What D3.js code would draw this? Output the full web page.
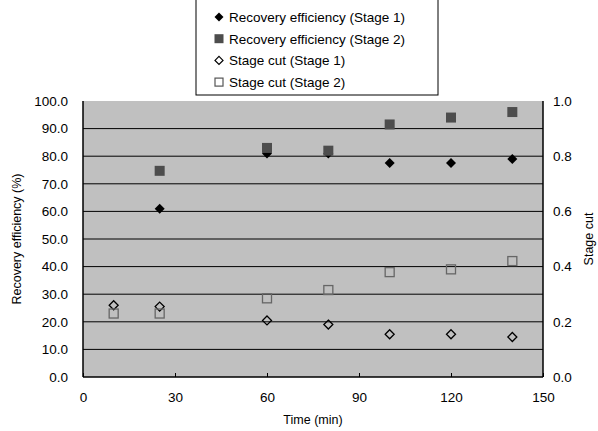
<!DOCTYPE html>
<html><head><meta charset="utf-8">
<script src="https://cdn.jsdelivr.net/npm/d3@7"></script>
<style>body{margin:0;background:#fff}text{font-family:"Liberation Sans",Arial,sans-serif;}</style>
</head><body><svg id="c" width="598" height="431"></svg>
<script>
const recTime1 = [25, 60, 80, 100, 120, 140];
const recStage1 = [61.0, 81.0, 81.0, 77.5, 77.5, 79.0];
const recTime2 = [25, 60, 80, 100, 120, 140];
const recStage2 = [74.7, 83.0, 82.0, 91.5, 94.0, 96.0];
const cutTime = [10, 25, 60, 80, 100, 120, 140];
const cutStage1 = [0.26, 0.255, 0.205, 0.19, 0.155, 0.155, 0.145];
const cutStage2 = [0.23, 0.23, 0.285, 0.315, 0.38, 0.39, 0.42];
const xTicks = [0, 30, 60, 90, 120, 150];
const yTicks = [0,10,20,30,40,50,60,70,80,90,100];
const y2Ticks = [0,0.2,0.4,0.6,0.8,1.0];
const legendLabels = ["Recovery efficiency (Stage 1)","Recovery efficiency (Stage 2)","Stage cut (Stage 1)","Stage cut (Stage 2)"];

const svg = d3.select("#c");
const L=83, R=543, T=101, B=377;
const x = d3.scaleLinear().domain([0,150]).range([L,R]);
const y = d3.scaleLinear().domain([0,100]).range([B,T]);
const y2 = d3.scaleLinear().domain([0,1]).range([B,T]);

svg.append("rect").attr("x",L).attr("y",T).attr("width",R-L).attr("height",B-T).attr("fill","#c0c0c0");
svg.append("g").selectAll("line").data(yTicks.filter(d=>d>0&&d<100)).join("line")
  .attr("x1",L).attr("x2",R).attr("y1",d=>y(d)).attr("y2",d=>y(d)).attr("stroke","#000").attr("stroke-width",1);

// axes
const xa = svg.append("g").attr("transform",`translate(0,${B})`)
  .call(d3.axisBottom(x).tickValues(xTicks).tickSize(-4).tickPadding(15).tickFormat(d3.format("d")));
const ya = svg.append("g").attr("transform",`translate(${L},0)`)
  .call(d3.axisLeft(y).tickValues(yTicks).tickSize(0).tickPadding(15).tickFormat(d3.format(".1f")));
const y2a = svg.append("g").attr("transform",`translate(${R},0)`)
  .call(d3.axisRight(y2).tickValues(y2Ticks).tickSize(0).tickPadding(10).tickFormat(d3.format(".1f")));
[xa,ya,y2a].forEach(a=>{
  a.select(".domain").attr("stroke","#000").attr("stroke-width",1.5);
  a.selectAll("text").attr("font-size",13.5).attr("fill","#000").style("font-family","Liberation Sans, Arial, sans-serif");
  a.selectAll(".tick line").attr("stroke","#000");
});
xa.select(".domain").attr("d",`M${L},0H${R}`);
ya.select(".domain").attr("d",`M0,${T}V${B}`);
y2a.select(".domain").attr("d",`M0,${T}V${B}`);

svg.append("text").attr("x",(L+R)/2).attr("y",424).attr("text-anchor","middle").attr("font-size",12.5).text("Time (min)");
svg.append("text").attr("transform",`translate(21,${(T+B)/2}) rotate(-90)`).attr("text-anchor","middle").attr("font-size",12.5).text("Recovery efficiency (%)");
svg.append("text").attr("transform",`translate(593,${(T+B)/2}) rotate(-90)`).attr("text-anchor","middle").attr("font-size",12.5).text("Stage cut");

function diamondPath(s){ return `M0,${-s}L${s},0L0,${s}L${-s},0Z`; }

// stage cut
svg.append("g").selectAll("path").data(cutTime.map((t,i)=>[t,cutStage1[i]])).join("path")
  .attr("d",diamondPath(4.5)).attr("transform",d=>`translate(${x(d[0])},${y2(d[1])})`)
  .attr("fill","none").attr("stroke","#000").attr("stroke-width",1.3);
svg.append("g").selectAll("rect").data(cutTime.map((t,i)=>[t,cutStage2[i]])).join("rect")
  .attr("x",d=>x(d[0])-4.5).attr("y",d=>y2(d[1])-4.5).attr("width",9).attr("height",9)
  .attr("fill","none").attr("stroke","#666").attr("stroke-width",1.3);
// recovery
svg.append("g").selectAll("path").data(recTime1.map((t,i)=>[t,recStage1[i]])).join("path")
  .attr("d",diamondPath(5)).attr("transform",d=>`translate(${x(d[0])},${y(d[1])})`).attr("fill","#000");
svg.append("g").selectAll("rect").data(recTime2.map((t,i)=>[t,recStage2[i]])).join("rect")
  .attr("x",d=>x(d[0])-5).attr("y",d=>y(d[1])-5).attr("width",10).attr("height",10).attr("fill","#4d4d4d");

// legend
const lg = svg.append("g");
lg.append("rect").attr("x",196).attr("y",-1).attr("width",242).attr("height",96).attr("fill","#fff").attr("stroke","#000").attr("stroke-width",1);
legendLabels.forEach((lab,i)=>{
  const cy = 17 + i*21.7, mx = 219;
  if(i===0) lg.append("path").attr("d",diamondPath(4.5)).attr("transform",`translate(${mx},${cy})`).attr("fill","#000");
  if(i===1) lg.append("rect").attr("x",mx-4.5).attr("y",cy-4.5).attr("width",9).attr("height",9).attr("fill","#4d4d4d");
  if(i===2) lg.append("path").attr("d",diamondPath(4)).attr("transform",`translate(${mx},${cy})`).attr("fill","none").attr("stroke","#000").attr("stroke-width",1.2);
  if(i===3) lg.append("rect").attr("x",mx-4).attr("y",cy-4).attr("width",8).attr("height",8).attr("fill","none").attr("stroke","#555").attr("stroke-width",1.2);
  lg.append("text").attr("x",229).attr("y",cy+4.8).attr("font-size",13.5).text(lab);
});
</script></body></html>
